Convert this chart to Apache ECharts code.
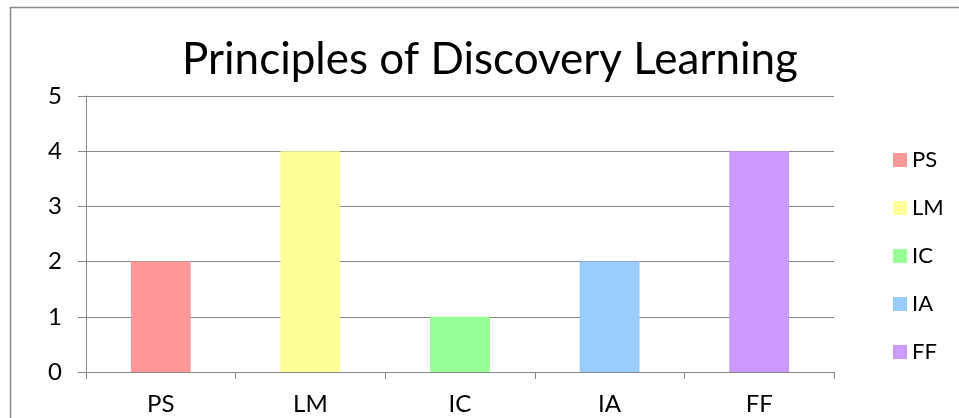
<!DOCTYPE html>
<html>
<head>
<meta charset="utf-8">
<script src="https://cdn.jsdelivr.net/npm/echarts@6/dist/echarts.min.js"></script>
<style>
html,body{margin:0;padding:0;background:#fff;}
#c{width:959px;height:418px;}
</style>
</head>
<body>
<div id="c"></div>
<script>
const categories = ['PS', 'LM', 'IC', 'IA', 'FF'];
const values = [2, 4, 1, 2, 4];
const colors = ['#FF9999', '#FFFF99', '#99FF99', '#99CCFF', '#CC99FF'];
const yTicks = [0, 1, 2, 3, 4, 5];
const titleText = 'Principles of Discovery Learning';

const FONT = 'Lato';
const gray = '#868686';

const chart = echarts.init(document.getElementById('c'), null, {renderer: 'canvas'});

const series = categories.map((name, i) => ({
  name: name,
  type: 'bar',
  stack: 'all',
  barWidth: '40%',
  itemStyle: {color: colors[i]},
  data: categories.map((c, j) => (j === i ? values[j] : '-'))
}));

chart.setOption({
  animation: false,
  backgroundColor: '#fff',
  title: {
    text: titleText,
    left: 177,
    top: 33,
    textStyle: {fontFamily: FONT, fontWeight: 'normal', fontSize: 44, color: '#000'}
  },
  legend: {
    orient: 'vertical',
    left: 888,
    top: 144,
    itemWidth: 14,
    itemHeight: 14,
    itemGap: 26,
    icon: 'rect',
    data: categories,
    textStyle: {fontFamily: FONT, fontSize: 22, color: '#000'}
  },
  grid: {left: 86, right: 125, top: 96, bottom: 46, containLabel: false},
  xAxis: {
    type: 'category',
    data: categories,
    axisLine: {show: true, lineStyle: {color: gray, width: 1}},
    axisTick: {show: true, length: 7, alignWithLabel: false, lineStyle: {color: gray}},
    axisLabel: {fontFamily: FONT, fontSize: 24, color: '#000', margin: 20}
  },
  yAxis: {
    type: 'value',
    min: yTicks[0],
    max: yTicks[yTicks.length - 1],
    interval: 1,
    axisLine: {show: true, lineStyle: {color: gray, width: 1}},
    axisTick: {show: true, length: 8, lineStyle: {color: gray}},
    splitLine: {show: true, lineStyle: {color: gray, width: 1}},
    axisLabel: {fontFamily: FONT, fontSize: 24, color: '#000', margin: 24}
  },
  graphic: [{
    type: 'polyline',
    shape: {points: [[10.5, 418], [10.5, 7.5], [959, 7.5]]},
    style: {stroke: '#8c8c8c', lineWidth: 1.5, fill: null},
    silent: true
  }],
  series: series
});
</script>
</body>
</html>
